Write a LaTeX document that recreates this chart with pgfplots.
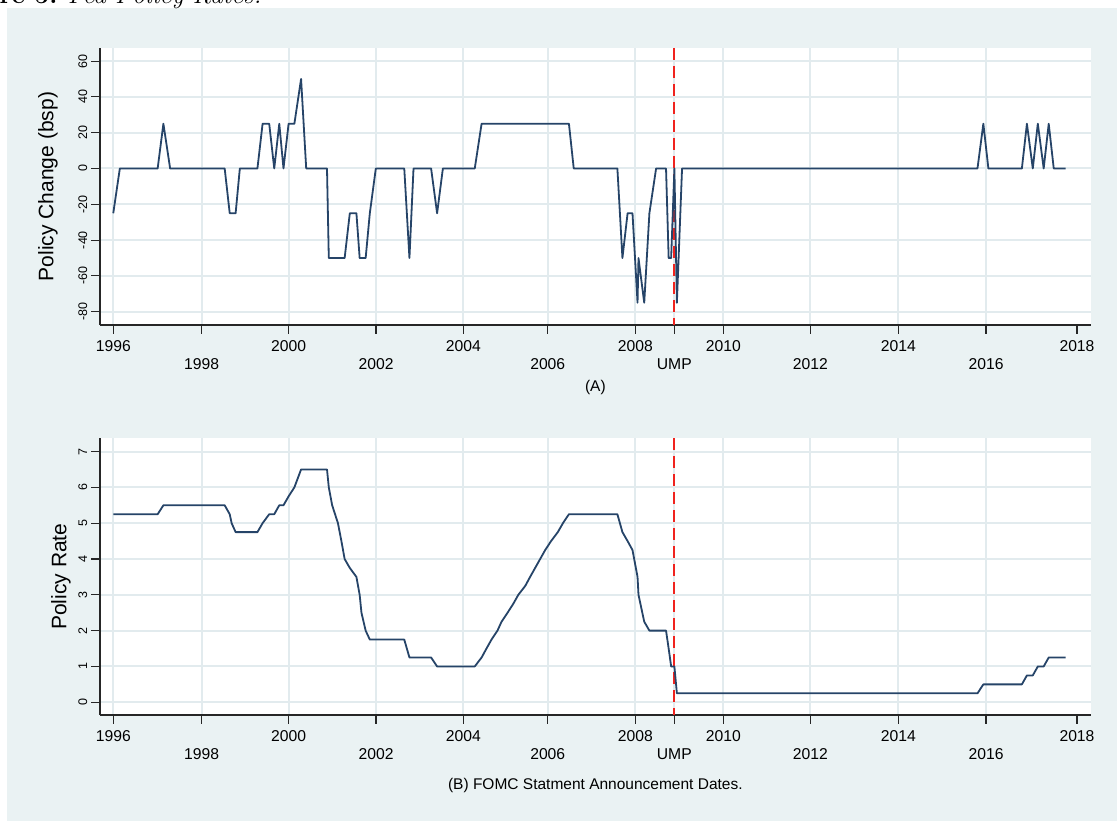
\documentclass[border=0pt]{standalone}
\usepackage{fontspec}
\usepackage{pgfplots}
\usepackage{pgfplotstable}
\pgfplotsset{compat=1.18}
\newfontfamily\arial{Liberation Sans}

\definecolor{bgc}{RGB}{234,242,243}
\definecolor{gridc}{RGB}{226,235,238}
\definecolor{navyc}{RGB}{38,68,104}
\definecolor{umpred}{RGB}{240,35,30}

% FOMC statement dates (decimal year), change in bp, target rate (upper bound)
\pgfplotstableread{
x chg rate
1996.082 -25 5.25
1996.232 0 5.25
1996.385 0 5.25
1996.503 0 5.25
1996.634 0 5.25
1996.730 0 5.25
1996.866 0 5.25
1996.959 0 5.25
1997.096 0 5.25
1997.227 25 5.50
1997.381 0 5.50
1997.499 0 5.50
1997.630 0 5.50
1997.745 0 5.50
1997.863 0 5.50
1997.956 0 5.50
1998.093 0 5.50
1998.244 0 5.50
1998.378 0 5.50
1998.496 0 5.50
1998.627 0 5.50
1998.742 -25 5.25
1998.786 -25 5.00
1998.877 -25 4.75
1998.973 0 4.75
1999.090 0 4.75
1999.241 0 4.75
1999.375 0 4.75
1999.493 25 5.00
1999.644 25 5.25
1999.759 0 5.25
1999.874 25 5.50
1999.970 0 5.50
2000.087 25 5.75
2000.219 25 6.00
2000.372 50 6.50
2000.489 0 6.50
2000.639 0 6.50
2000.754 0 6.50
2000.872 0 6.50
2000.964 0 6.50
2001.005 -50 6.00
2001.082 -50 5.50
2001.214 -50 5.00
2001.293 -50 4.50
2001.367 -50 4.00
2001.485 -25 3.75
2001.636 -25 3.50
2001.710 -50 3.00
2001.751 -50 2.50
2001.847 -50 2.00
2001.942 -25 1.75
2002.079 0 1.75
2002.211 0 1.75
2002.345 0 1.75
2002.482 0 1.75
2002.614 0 1.75
2002.729 0 1.75
2002.847 -50 1.25
2002.940 0 1.25
2003.077 0 1.25
2003.208 0 1.25
2003.342 0 1.25
2003.479 -25 1.00
2003.611 0 1.00
2003.707 0 1.00
2003.822 0 1.00
2003.937 0 1.00
2004.074 0 1.00
2004.205 0 1.00
2004.339 0 1.00
2004.495 25 1.25
2004.607 25 1.50
2004.721 25 1.75
2004.858 25 2.00
2004.951 25 2.25
2005.088 25 2.50
2005.219 25 2.75
2005.334 25 3.00
2005.493 25 3.25
2005.603 25 3.50
2005.718 25 3.75
2005.833 25 4.00
2005.948 25 4.25
2006.082 25 4.50
2006.236 25 4.75
2006.353 25 5.00
2006.490 25 5.25
2006.600 0 5.25
2006.718 0 5.25
2006.814 0 5.25
2006.945 0 5.25
2007.082 0 5.25
2007.216 0 5.25
2007.351 0 5.25
2007.488 0 5.25
2007.597 0 5.25
2007.712 -50 4.75
2007.830 -25 4.50
2007.942 -25 4.25
2008.057 -75 3.50
2008.079 -50 3.00
2008.210 -75 2.25
2008.328 -25 2.00
2008.481 0 2.00
2008.593 0 2.00
2008.708 0 2.00
2008.768 -50 1.50
2008.825 -50 1.00
2008.899 0 1.00
2008.956 -75 0.25
2009.074 0 0.25
2009.208 0 0.25
2009.323 0 0.25
2009.477 0 0.25
2009.611 0 0.25
2009.726 0 0.25
2009.841 0 0.25
2009.956 0 0.25
2010.071 0 0.25
2010.203 0 0.25
2010.321 0 0.25
2010.474 0 0.25
2010.605 0 0.25
2010.721 0 0.25
2010.838 0 0.25
2010.951 0 0.25
2011.068 0 0.25
2011.200 0 0.25
2011.318 0 0.25
2011.471 0 0.25
2011.603 0 0.25
2011.721 0 0.25
2011.836 0 0.25
2011.948 0 0.25
2012.066 0 0.25
2012.197 0 0.25
2012.314 0 0.25
2012.467 0 0.25
2012.582 0 0.25
2012.699 0 0.25
2012.811 0 0.25
2012.945 0 0.25
2013.079 0 0.25
2013.214 0 0.25
2013.329 0 0.25
2013.463 0 0.25
2013.578 0 0.25
2013.712 0 0.25
2013.827 0 0.25
2013.962 0 0.25
2014.077 0 0.25
2014.211 0 0.25
2014.326 0 0.25
2014.460 0 0.25
2014.575 0 0.25
2014.710 0 0.25
2014.825 0 0.25
2014.959 0 0.25
2015.074 0 0.25
2015.208 0 0.25
2015.323 0 0.25
2015.458 0 0.25
2015.573 0 0.25
2015.710 0 0.25
2015.822 0 0.25
2015.956 25 0.50
2016.071 0 0.50
2016.205 0 0.50
2016.320 0 0.50
2016.454 0 0.50
2016.568 0 0.50
2016.721 0 0.50
2016.836 0 0.50
2016.951 25 0.75
2017.085 0 0.75
2017.200 25 1.00
2017.334 0 1.00
2017.449 25 1.25
2017.564 0 1.25
2017.718 0 1.25
2017.833 0 1.25
}\fomc

\pgfplotsset{
  fedpanel/.style={
    scale only axis, width=990.7pt, height=277pt,
    xmin=1995.779, xmax=2018.408,
    axis background/.style={fill=white},
    axis x line*=bottom, axis y line*=left,
    axis line style={-, line width=1.3pt, black!85},
    tick align=outside, major tick length=9pt,
    tick style={line width=1.1pt, black!85},
    xmajorgrids, ymajorgrids,
    major grid style={line width=2pt, gridc},
    xtick={1996.083,1998.102,2000.089,2002.084,2004.078,2006.006,2008.006,2008.897,2010.016,2012.004,2014.014,2016.017},
    xticklabels={1996,\raisebox{-17.3pt}{1998},2000,\raisebox{-17.3pt}{2002},2004,\raisebox{-17.3pt}{2006},2008,\raisebox{-17.3pt}{UMP},2010,\raisebox{-17.3pt}{2012},2014,\raisebox{-17.3pt}{2016}},
    extra x ticks={2018.095}, extra x tick labels={2018},
    extra x tick style={grid=none},
    xticklabel style={font=\arial\fontsize{15.7}{18}\selectfont, anchor=base, inner sep=0pt, yshift=-18pt},
    yticklabel style={font=\arial\fontsize{12.5}{14}\selectfont, xshift=-4pt, rotate=90, anchor=base, inner sep=0pt},
    ylabel style={font=\arial\fontsize{21}{25}\selectfont, anchor=center},
    xlabel style={font=\arial\fontsize{15.5}{18}\selectfont, at={(axis description cs:0.5,0)}, anchor=base},
  }
}

\begin{document}
\begin{tikzpicture}
\useasboundingbox (0pt,0pt) rectangle (1117pt,821pt);
\fill[bgc] (7pt,0pt) rectangle (1117pt,813pt);
\node[anchor=base west, inner sep=0pt, font=\fontsize{26}{30}\selectfont] at (-58pt,817pt) {\textbf{Figure 5:} \textit{Fed Policy Rates.}};

% (A) policy change
\begin{axis}[fedpanel, at={(100pt,496pt)}, anchor=south west,
    ymin=-87.4, ymax=67.3,
    ytick={-80,-60,-40,-20,0,20,40,60},
    yticklabels={-80,-60,-40,-20,0,20,40,60},
    ylabel={Policy Change (bsp)},
    ylabel style={at={(axis description cs:-0.0525,0.5)}},
    xlabel={(A)}, xlabel style={yshift=-67pt}]
\addplot[umpred, line width=1.8pt, dash pattern=on 12pt off 6pt] coordinates {(2008.897,67.3) (2008.897,-87.4)};
\addplot[navyc, line width=1.8pt, line join=round] table[x=x, y=chg] {\fomc};
\end{axis}

% (B) policy rate
\begin{axis}[fedpanel, at={(100pt,106pt)}, anchor=south west, height=276.7pt,
    ymin=-0.355, ymax=7.37,
    ytick={0,1,2,3,4,5,6,7},
    yticklabels={0,1,2,3,4,5,6,7},
    ylabel={Policy Rate},
    ylabel style={at={(axis description cs:-0.0394,0.5)}},
    xlabel={(B) FOMC Statment Announcement Dates.}, xlabel style={yshift=-75pt}]
\addplot[umpred, line width=1.8pt, dash pattern=on 12pt off 6pt] coordinates {(2008.897,7.37) (2008.897,-0.355)};
\addplot[navyc, line width=1.8pt, line join=round] table[x=x, y=rate] {\fomc};
\end{axis}
\end{tikzpicture}
\end{document}
